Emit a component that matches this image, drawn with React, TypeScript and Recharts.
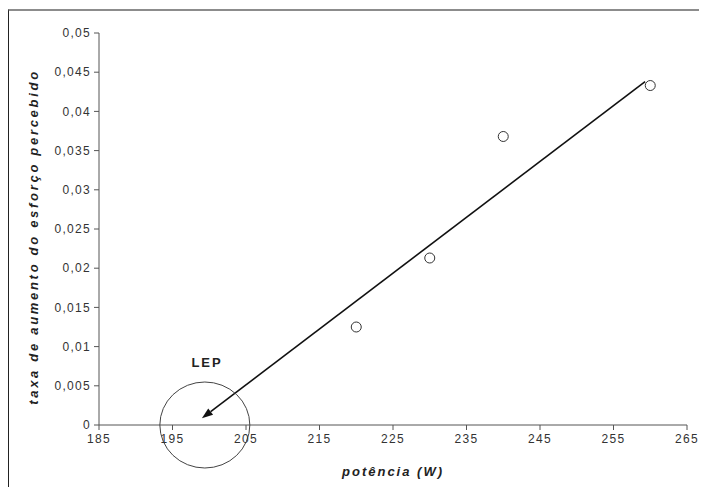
import { ScatterChart, Scatter, XAxis, YAxis, ReferenceLine, ReferenceDot } from 'recharts';

// measured points: power (W) vs rate of increase in perceived exertion
const POWER = [220, 230, 240, 260];
const RATE = [0.0125, 0.0213, 0.0368, 0.0433];

const X_TICKS = [185, 195, 205, 215, 225, 235, 245, 255, 265];
const Y_TICKS = [0, 0.005, 0.01, 0.015, 0.02, 0.025, 0.03, 0.035, 0.04, 0.045, 0.05];

// extrapolated trend drawn as an arrow down to the x axis
const TREND_X = [259.3, 199];
const TREND_Y = [0.0438, 0.00085];

// LEP marker: ellipse centre and the label above it
const LEP_CENTER = { x: 199.4, y: 0 };
const LEP_TEXT = { x: 199.7, y: 0.008, label: 'LEP' };

const FONT = '"Liberation Sans", Arial, sans-serif';
const TICK = { fontSize: 12, fill: '#333', fontFamily: FONT, letterSpacing: 1.3 };
const TITLE = { fontSize: 13, fill: '#222', fontFamily: FONT, fontWeight: 700, fontStyle: 'italic', letterSpacing: 2 };

const points = POWER.map((x, i) => ({ x, y: RATE[i] }));
const fmt = (v: number) => String(v).replace('.', ',');

const OpenCircle = (p: any) => (
  <circle cx={p.cx} cy={p.cy} r={5} fill="#fff" stroke="#333" strokeWidth={1} />
);

const Arrow = (p: any) => {
  const { x1, y1, x2, y2 } = p;
  const a = Math.atan2(y2 - y1, x2 - x1);
  const len = 11;
  const half = 4;
  const bx = x2 - len * Math.cos(a);
  const by = y2 - len * Math.sin(a);
  const nx = -Math.sin(a) * half;
  const ny = Math.cos(a) * half;
  return (
    <g>
      <line x1={x1} y1={y1} x2={bx} y2={by} stroke="#111" strokeWidth={1.6} />
      <polygon points={`${x2},${y2} ${bx + nx},${by + ny} ${bx - nx},${by - ny}`} fill="#111" />
    </g>
  );
};

export default function App() {
  return (
    <div
      style={{
        width: 698,
        height: 476,
        marginTop: 1,
        borderTop: '2px solid #8c8c8c',
        borderLeft: '1px solid #222',
        background: '#fff',
      }}
    >
      <ScatterChart width={698} height={476} margin={{ top: 22, right: 20, bottom: 32, left: 30 }}>
        <XAxis
          type="number"
          dataKey="x"
          domain={[185, 265]}
          ticks={X_TICKS}
          interval={0}
          tick={TICK}
          tickSize={5}
          tickMargin={4}
          stroke="#555"
          height={30}
          label={{ value: 'potência (W)', position: 'center', dy: 31, style: TITLE }}
        />
        <YAxis
          type="number"
          dataKey="y"
          domain={[0, 0.05]}
          ticks={Y_TICKS}
          interval={0}
          tick={TICK}
          tickSize={5}
          tickMargin={3}
          tickFormatter={fmt}
          stroke="#555"
          width={60}
          label={{
            value: 'taxa de aumento do esforço percebido',
            angle: -90,
            position: 'center',
            dx: -36,
            dy: 8,
            style: { ...TITLE, letterSpacing: 2.7 },
          }}
        />
        <Scatter data={points} shape={OpenCircle} isAnimationActive={false} />
        <ReferenceLine
          segment={[
            { x: TREND_X[0], y: TREND_Y[0] },
            { x: TREND_X[1], y: TREND_Y[1] },
          ]}
          shape={Arrow}
        />
        <ReferenceDot
          x={LEP_CENTER.x}
          y={LEP_CENTER.y}
          ifOverflow="visible"
          shape={(p: any) => (
            <ellipse cx={p.cx} cy={p.cy} rx={45} ry={43} fill="none" stroke="#444" strokeWidth={1} />
          )}
        />
        <ReferenceDot
          x={LEP_TEXT.x}
          y={LEP_TEXT.y}
          ifOverflow="visible"
          shape={(p: any) => (
            <text x={p.cx} y={p.cy} textAnchor="middle" dominantBaseline="central" {...TITLE} fontStyle="normal">
              {LEP_TEXT.label}
            </text>
          )}
        />
      </ScatterChart>
    </div>
  );
}
